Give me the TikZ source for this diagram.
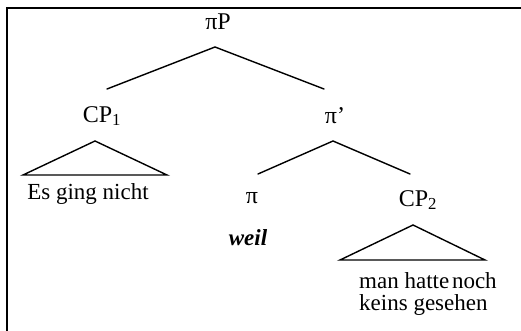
\documentclass[tikz,border=0pt]{standalone}
\usepackage{fontspec}
\setmainfont{Liberation Serif}
\begin{document}
\begin{tikzpicture}[x=1pt,y=-1pt,
  lab/.style={inner sep=0pt, font=\fontsize{24}{24}\selectfont},
  txt/.style={inner sep=0pt, font=\fontsize{23}{23}\selectfont},
  edge/.style={line width=1.4pt, line cap=round},
  frameline/.style={line width=1.6pt}]
\useasboundingbox (0,0) rectangle (521,331);
\draw[frameline] (521,8) -- (7,8) -- (7,331);
% labels
\node[lab] (pP) at (218,21.5) {πP};
\node[lab] (cp1) at (102,116) {CP\textsubscript{1}};
\node[lab] (pibar) at (335,116) {π’};
\node[txt] (es) at (88,194) {Es ging nicht};
\node[lab] (pi) at (252,198) {π};
\node[txt, font=\fontsize{23}{23}\selectfont\bfseries\itshape] (weil) at (248,237.5) {weil};
\node[lab] (cp2) at (418,200) {CP\textsubscript{2}};
\node[txt, align=left, anchor=north west, font=\fontsize{23}{22.5}\selectfont] (man) at (359,272) {man hatte\hspace{0.12em}noch\\keins gesehen};
% edge end points
\coordinate (pPa) at (215,47);
\coordinate (cp1t) at (107,89);
\coordinate (pibart) at (324,89);
\coordinate (cp1a) at (95,141);
\coordinate (cp1l) at (23,175);
\coordinate (cp1r) at (167,175);
\coordinate (pibara) at (333,141);
\coordinate (pit) at (258,174);
\coordinate (cp2t) at (410,174);
\coordinate (cp2a) at (413,225);
\coordinate (cp2l) at (340,260);
\coordinate (cp2r) at (485,260);
% connectors
\draw[edge] (cp1t) -- (pPa) -- (pibart);
\draw[edge] (cp1l) -- (cp1a) -- (cp1r) -- cycle;
\draw[edge] (pit) -- (pibara) -- (cp2t);
\draw[edge] (cp2l) -- (cp2a) -- (cp2r) -- cycle;
\end{tikzpicture}
\end{document}
